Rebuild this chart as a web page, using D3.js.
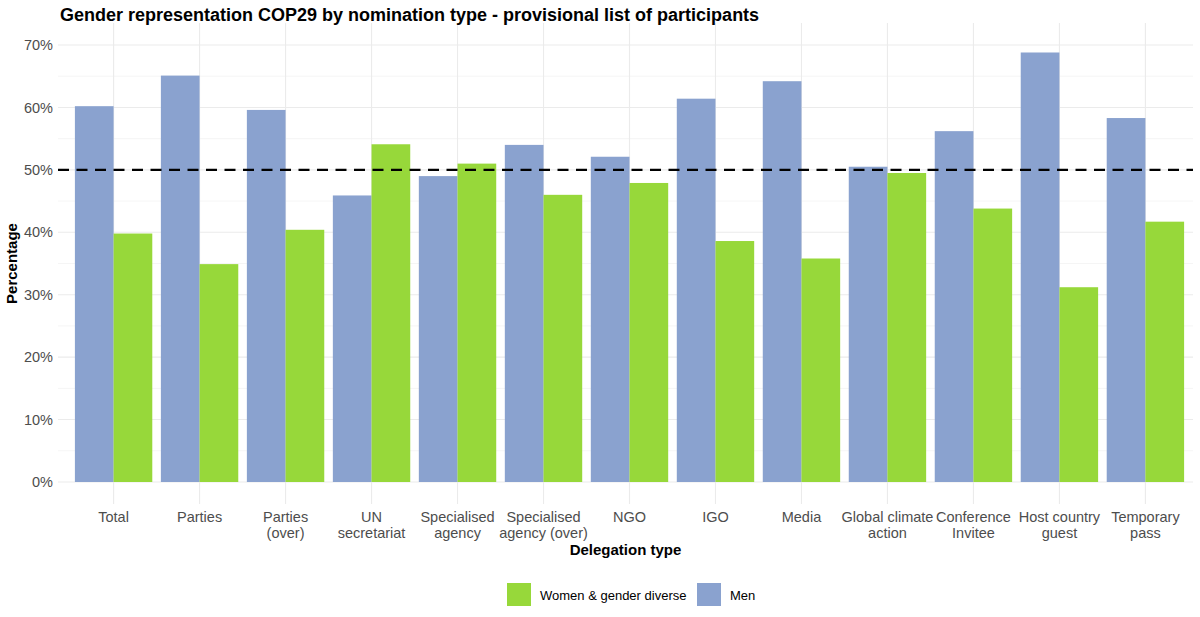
<!DOCTYPE html>
<html>
<head>
<meta charset="utf-8">
<script src="https://cdn.jsdelivr.net/npm/d3@7"></script>
<style>
  body { margin: 0; background: #fff; }
  text { font-family: "Liberation Sans", Arial, sans-serif; }
</style>
</head>
<body>
<svg id="chart" width="1200" height="617"></svg>
<script>
var svgWidth = 1200;
var svgHeight = 617;

// data
var categories = [
  ["Total"], ["Parties"], ["Parties", "(over)"], ["UN", "secretariat"],
  ["Specialised", "agency"], ["Specialised", "agency (over)"], ["NGO"], ["IGO"],
  ["Media"], ["Global climate", "action"], ["Conference", "Invitee"],
  ["Host country", "guest"], ["Temporary", "pass"]
];
var men   = [60.2, 65.1, 59.6, 45.9, 49.0, 54.0, 52.1, 61.4, 64.2, 50.5, 56.2, 68.8, 58.3];
var women = [39.8, 34.9, 40.4, 54.1, 51.0, 46.0, 47.9, 38.6, 35.8, 49.5, 43.8, 31.2, 41.7];
var yTicks = [0, 10, 20, 30, 40, 50, 60, 70];
var yMinor = [5, 15, 25, 35, 45, 55, 65];
var refLine = 50;

var menColor = "#8aa2cf";
var womenColor = "#97d83a";

var panel = {left: 62, right: 1197, top: 23, bottom: 504};

var svg = d3.select("#chart");

var keys = categories.map(function(d) { return d.join(" "); });

var x0 = d3.scaleBand()
  .domain(keys)
  .range([panel.left, panel.right])
  .paddingInner(0.1)
  .paddingOuter(0.15);

var x1 = d3.scaleBand()
  .domain(["Men", "Women"])
  .range([0, x0.bandwidth()]);

var y = d3.scaleLinear()
  .domain([0, 70])
  .range([482, 45]);

var gridLeft = 58, gridRight = 1193;

// grid
var grid = svg.append("g");
grid.selectAll(".minor")
  .data(yMinor)
  .enter().append("line")
  .attr("x1", gridLeft).attr("x2", gridRight)
  .attr("y1", function(d) { return y(d); })
  .attr("y2", function(d) { return y(d); })
  .attr("stroke", "#f3f3f3").attr("stroke-width", 0.8);
grid.selectAll(".major")
  .data(yTicks)
  .enter().append("line")
  .attr("x1", gridLeft).attr("x2", gridRight)
  .attr("y1", function(d) { return y(d); })
  .attr("y2", function(d) { return y(d); })
  .attr("stroke", "#ebebeb").attr("stroke-width", 1.1);
grid.selectAll(".vert")
  .data(keys)
  .enter().append("line")
  .attr("x1", function(d) { return x0(d) + x0.bandwidth() / 2; })
  .attr("x2", function(d) { return x0(d) + x0.bandwidth() / 2; })
  .attr("y1", panel.top).attr("y2", panel.bottom)
  .attr("stroke", "#ebebeb").attr("stroke-width", 1.1);

// bars
var groups = svg.append("g").selectAll("g")
  .data(keys)
  .enter().append("g")
  .attr("transform", function(d) { return "translate(" + x0(d) + ",0)"; });

groups.selectAll("rect")
  .data(function(d, i) {
    return [{k: "Men", v: men[i]}, {k: "Women", v: women[i]}];
  })
  .enter().append("rect")
  .attr("x", function(d) { return x1(d.k); })
  .attr("width", x1.bandwidth())
  .attr("y", function(d) { return y(d.v); })
  .attr("height", function(d) { return y(0) - y(d.v); })
  .attr("fill", function(d) { return d.k == "Men" ? menColor : womenColor; });

// 50% line
svg.append("line")
  .attr("x1", gridLeft).attr("x2", gridRight)
  .attr("y1", y(refLine)).attr("y2", y(refLine))
  .attr("stroke", "#000")
  .attr("stroke-width", 2.4)
  .attr("stroke-dasharray", "11,7.5");

// y axis labels
var yAxis = svg.append("g")
  .attr("transform", "translate(53,0)")
  .call(d3.axisLeft(y).tickValues(yTicks).tickSize(0).tickPadding(0)
    .tickFormat(function(d) { return d + "%"; }));
yAxis.select(".domain").remove();
yAxis.selectAll("text")
  .attr("font-size", 14.5)
  .attr("fill", "#4d4d4d")
  .attr("font-family", "Liberation Sans, Arial, sans-serif");

// x axis labels
var xAxis = svg.append("g")
  .attr("transform", "translate(0,504)")
  .call(d3.axisBottom(x0).tickSize(0).tickFormat(""));
xAxis.select(".domain").remove();
xAxis.selectAll(".tick").each(function(d, i) {
  var t = d3.select(this).append("text")
    .attr("text-anchor", "middle")
    .attr("font-size", 14.5)
    .attr("fill", "#4d4d4d")
    .attr("font-family", "Liberation Sans, Arial, sans-serif");
  categories[i].forEach(function(line, j) {
    t.append("tspan").attr("x", 0).attr("y", 18 + j * 16).text(line);
  });
});

// titles
svg.append("text")
  .attr("x", 60).attr("y", 21)
  .attr("font-size", 18).attr("font-weight", "bold")
  .text("Gender representation COP29 by nomination type - provisional list of participants");

svg.append("text")
  .attr("x", (gridLeft + gridRight) / 2).attr("y", 555)
  .attr("text-anchor", "middle")
  .attr("font-size", 15).attr("font-weight", "bold")
  .text("Delegation type");

svg.append("text")
  .attr("transform", "translate(17," + (panel.top + panel.bottom) / 2 + ") rotate(-90)")
  .attr("text-anchor", "middle")
  .attr("font-size", 15).attr("font-weight", "bold")
  .text("Percentage");

// legend
var legendItems = [
  {label: "Women & gender diverse", color: womenColor, x: 507},
  {label: "Men", color: menColor, x: 697}
];
var legend = svg.append("g").selectAll("g")
  .data(legendItems)
  .enter().append("g")
  .attr("transform", function(d) { return "translate(" + d.x + ",583)"; });
legend.append("rect")
  .attr("width", 24).attr("height", 23)
  .attr("fill", function(d) { return d.color; });
legend.append("text")
  .attr("x", 33).attr("y", 17)
  .attr("font-size", 13)
  .text(function(d) { return d.label; });
</script>
</body>
</html>
